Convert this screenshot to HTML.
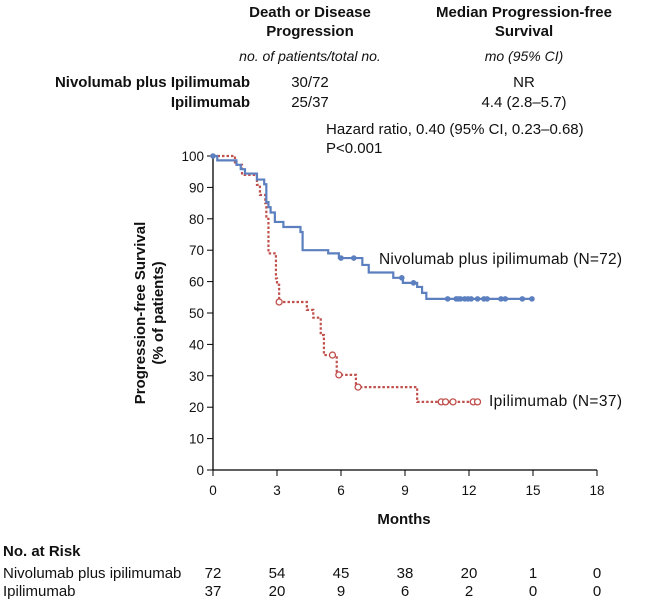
<!DOCTYPE html>
<html><head><meta charset="utf-8"><style>
body{margin:0;background:#fff;font-family:"Liberation Sans",sans-serif;}
svg{display:block}
text{font-family:"Liberation Sans",sans-serif;fill:#111}
</style></head><body>
<svg id="c" width="663" height="614">
<g font-size="15">
<text x="310" y="17" text-anchor="middle" font-weight="bold">Death or Disease</text>
<text x="310" y="36" text-anchor="middle" font-weight="bold">Progression</text>
<text x="310" y="61" text-anchor="middle" font-style="italic" font-size="14">no. of patients/total no.</text>
<text x="524" y="17" text-anchor="middle" font-weight="bold">Median Progression-free</text>
<text x="524" y="36" text-anchor="middle" font-weight="bold">Survival</text>
<text x="524" y="61" text-anchor="middle" font-style="italic" font-size="14">mo (95% CI)</text>
<text x="250" y="87" text-anchor="end" font-weight="bold">Nivolumab plus Ipilimumab</text>
<text x="250" y="107" text-anchor="end" font-weight="bold">Ipilimumab</text>
<text x="310" y="87" text-anchor="middle">30/72</text>
<text x="310" y="107" text-anchor="middle">25/37</text>
<text x="524" y="87" text-anchor="middle">NR</text>
<text x="524" y="107" text-anchor="middle">4.4 (2.8–5.7)</text>
<text x="326" y="134">Hazard ratio, 0.40 (95% CI, 0.23–0.68)</text>
<text x="326" y="153">P&lt;0.001</text>
</g>
<g id="axes"></g>
<g id="plot"></g>
<text x="404" y="524" text-anchor="middle" font-size="15" font-weight="bold">Months</text>
<text transform="translate(145,313) rotate(-90)" text-anchor="middle" font-size="15" font-weight="bold">Progression-free Survival</text>
<text transform="translate(163,313) rotate(-90)" text-anchor="middle" font-size="15" font-weight="bold">(% of patients)</text>
<text x="379" y="264" font-size="15.5" textLength="243">Nivolumab plus ipilimumab (N=72)</text>
<text x="489" y="406" font-size="15.5" textLength="133">Ipilimumab (N=37)</text>
<g id="risk" font-size="15"></g>
</svg>
<script>
const xTicks=[0,3,6,9,12,15,18];
const yTicks=[0,10,20,30,40,50,60,70,80,90,100];
const nivoT=[0,0.2,1.1,1.3,1.5,2.06,2.4,2.5,2.6,2.7,2.9,3.3,4.1,4.2,5.4,5.9,7.0,7.3,8.45,8.9,9.57,9.8,10.0,15.0];
const nivoS=[100,98.6,97.2,95.8,94.4,92.5,91,85.3,83.7,82,79,77.4,75.8,70,69,67.5,65.3,62.9,61.2,59.6,58.3,56.4,54.5,54.5];
const nivoCensT=[0,6.0,6.6,8.85,9.4,11.0,11.4,11.5,11.6,11.8,11.95,12.1,12.4,12.7,12.85,13.5,13.7,14.5,14.95];
const ipiT=[0,1.03,1.36,2.06,2.2,2.45,2.5,2.6,2.95,3.0,3.1,4.4,4.7,5.05,5.2,5.8,6.7,9.57,12.4];
const ipiS=[100,97.2,94,90.8,87.6,85,80,69,61,59,53.5,51,48.5,43,36.6,30.3,26.4,21.7,21.7];
const ipiCensT=[3.1,5.6,5.9,6.8,10.7,10.9,11.25,12.2,12.4];
const riskRows=["Nivolumab plus ipilimumab","Ipilimumab"];
const riskNivo=[72,54,45,38,20,1,0];
const riskIpi=[37,20,9,6,2,0,0];
const X=m=>213+m*(384/18), Y=v=>470-v*3.14;
const NS="http://www.w3.org/2000/svg";
function mk(tag,attrs,parent){const e=document.createElementNS(NS,tag);for(const k in attrs)e.setAttribute(k,attrs[k]);parent.appendChild(e);return e;}
const ax=document.getElementById('axes'),pl=document.getElementById('plot'),rk=document.getElementById('risk');
let a=mk('line',{x1:213,y1:Y(100),x2:213,y2:470,stroke:'#000','stroke-width':1.3},ax);


a=mk('line',{x1:213,y1:470,x2:X(18),y2:470,stroke:'#000','stroke-width':1.3},ax);


yTicks.forEach(v=>{mk('line',{x1:207,x2:213,y1:Y(v),y2:Y(v),stroke:'#000'},ax);
 const t=mk('text',{x:204,y:Y(v)+5,'text-anchor':'end','font-size':13.5},ax);t.textContent=v;
 
 });
xTicks.forEach(m=>{mk('line',{x1:X(m),x2:X(m),y1:470,y2:476,stroke:'#000'},ax);
 const t=mk('text',{x:X(m),y:495,'text-anchor':'middle','font-size':13.5},ax);t.textContent=m;
 
 });
function stepPath(T,S){let d='M'+X(T[0])+','+Y(S[0]);for(let i=1;i<T.length;i++){d+=' H'+X(T[i])+' V'+Y(S[i]);}return d;}
function survAt(T,S,t){let s=S[0];for(let i=0;i<T.length;i++){if(T[i]<=t)s=S[i];}return s;}
let p=mk('path',{d:stepPath(ipiT,ipiS),fill:'none',stroke:'#c0504d','stroke-width':2.2,'stroke-dasharray':'2.5 2'},pl);


p=mk('path',{d:stepPath(nivoT,nivoS),fill:'none',stroke:'#5b7fbf','stroke-width':2.2},pl);


nivoCensT.forEach(t=>{const c=mk('circle',{cx:X(t),cy:Y(survAt(nivoT,nivoS,t)),r:2.8,fill:'#5b7fbf'},pl);
 
 });
ipiCensT.forEach(t=>{const c=mk('circle',{cx:X(t),cy:Y(survAt(ipiT,ipiS,t)),r:3,fill:'#fff',stroke:'#c0504d','stroke-width':1.3},pl);
 
 });
let h=mk('text',{x:3,y:556,'font-weight':'bold'},rk);h.textContent='No. at Risk';


[riskNivo,riskIpi].forEach((row,r)=>{const y=578+r*18;
 const l=mk('text',{x:3,y:y},rk);l.textContent=riskRows[r];
 
 
 row.forEach((n,i)=>{const t=mk('text',{x:X(xTicks[i]),y:y,'text-anchor':'middle'},rk);t.textContent=n;
 
 });});
</script>
</body></html>
